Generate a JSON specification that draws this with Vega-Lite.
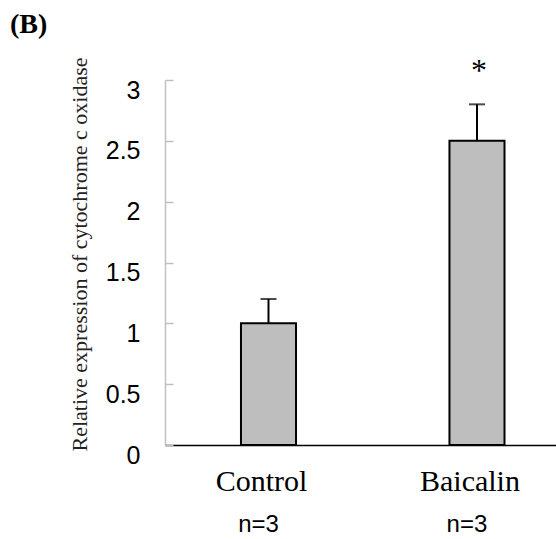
{
  "$schema": "https://vega.github.io/schema/vega-lite/v6.json",
  "width": 391,
  "height": 365,
  "autosize": {"type": "none"},
  "padding": {"left": 165, "top": 80, "right": 0, "bottom": 94},
  "background": "white",
  "title": {"text": "(B)", "anchor": "start", "frame": "group", "font": "Liberation Serif", "fontSize": 28, "fontWeight": "bold", "color": "black", "dx": -155, "offset": 16},
  "config": {"view": {"stroke": null}},
  "data": {"values": [
    {"group": "Control", "value": 1.0, "upper": 1.2, "n": "n=3", "sig": ""},
    {"group": "Baicalin", "value": 2.5, "upper": 2.8, "n": "n=3", "sig": "*"}
  ]},
  "encoding": {
    "x": {"field": "group", "type": "nominal", "sort": null,
      "scale": {"paddingInner": 0.736, "paddingOuter": 0.3057, "align": 0.596},
      "axis": {"title": null, "labelAngle": 0, "labelFont": "Liberation Serif", "labelFontSize": 30, "labelColor": "black", "ticks": false, "domainColor": "black", "domainWidth": 1.6, "labelPadding": 21, "labelOffset": -7}
    }
  },
  "layer": [
    {
      "mark": {"type": "bar", "fill": "#bebebe", "stroke": "black", "strokeWidth": 2},
      "encoding": {
        "y": {"field": "value", "type": "quantitative",
          "scale": {"domain": [0, 3], "nice": false, "zero": true},
          "axis": {"title": "Relative expression of cytochrome c oxidase", "titleFont": "Liberation Serif", "titleFontSize": 22, "titleFontWeight": "normal", "titleColor": "#222222", "titlePadding": 14, "titleY": 174,
            "values": [0, 0.5, 1, 1.5, 2, 2.5, 3], "format": "~g", "grid": false,
            "labelFont": "Liberation Sans", "labelFontSize": 25, "labelColor": "black", "labelPadding": 33, "labelOffset": 10,
            "tickSize": -8, "tickColor": "#c0c0c0", "tickWidth": 1.5, "domainColor": "#c0c0c0", "domainWidth": 1.5}
        }
      }
    },
    {
      "mark": {"type": "rule", "color": "black", "strokeWidth": 2},
      "encoding": {"y": {"field": "value", "type": "quantitative"}, "y2": {"field": "upper"}}
    },
    {
      "mark": {"type": "tick", "color": "black", "thickness": 2, "size": 16},
      "encoding": {"y": {"field": "upper", "type": "quantitative"}}
    },
    {
      "mark": {"type": "text", "font": "Liberation Serif", "fontSize": 32, "color": "black", "baseline": "middle", "dy": -33, "dx": 2},
      "encoding": {"y": {"field": "upper", "type": "quantitative"}, "text": {"field": "sig"}}
    },
    {
      "mark": {"type": "text", "font": "Liberation Sans", "fontSize": 24, "color": "black", "baseline": "middle", "dy": 80, "dx": -10},
      "encoding": {"y": {"datum": 0}, "text": {"field": "n"}}
    }
  ]
}
